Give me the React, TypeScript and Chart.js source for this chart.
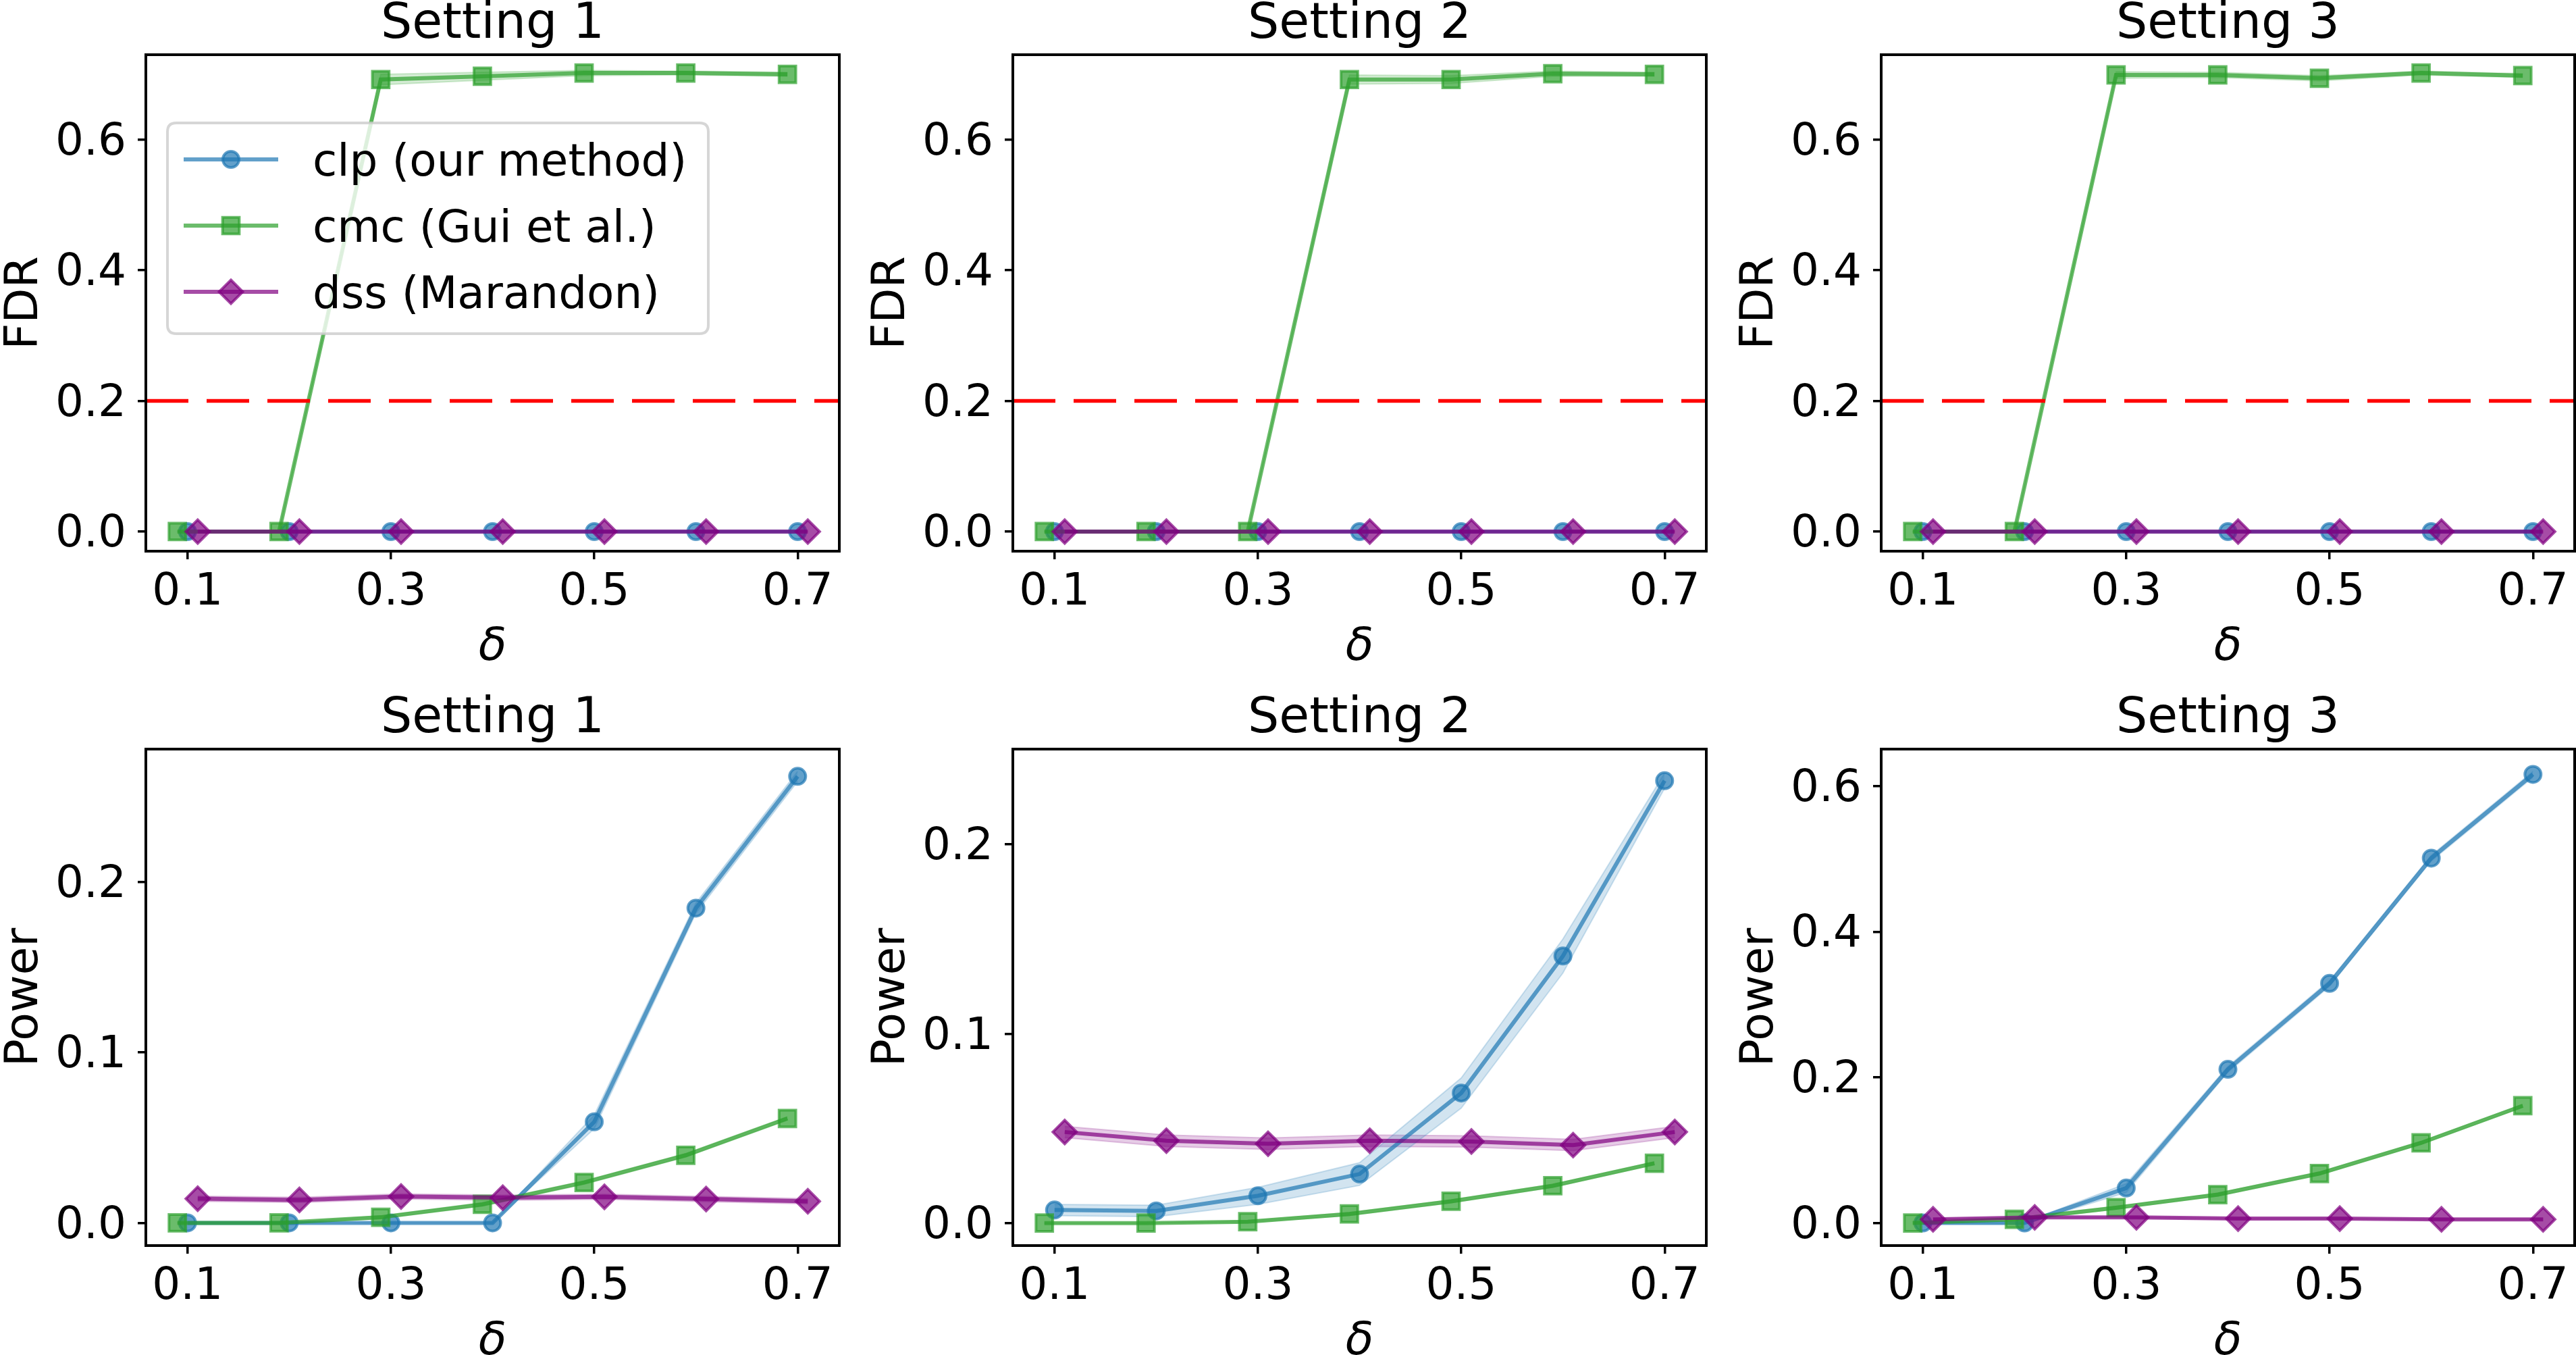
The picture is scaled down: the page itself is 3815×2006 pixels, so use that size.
import React, { useEffect, useRef } from 'react';
import { Chart, registerables } from 'chart.js';

Chart.register(...registerables);

const FONT = '"DejaVu Sans", "Liberation Sans", sans-serif';

// ---- data -------------------------------------------------------------
const DELTA = [0.1, 0.2, 0.3, 0.4, 0.5, 0.6, 0.7];
const X_TICKS = [0.1, 0.3, 0.5, 0.7];
const FDR_TICKS = [0, 0.2, 0.4, 0.6];
const POWER_TICKS_SMALL = [0, 0.1, 0.2];
const POWER_TICKS_LARGE = [0, 0.2, 0.4, 0.6];
const SETTINGS = ['Setting 1', 'Setting 2', 'Setting 3'];
const METHODS = ['clp (our method)', 'cmc (Gui et al.)', 'dss (Marandon)'];
const FDR_LEVEL = 0.2;

// FDR, setting 1
const fdrClp1 = [0, 0, 0, 0, 0, 0, 0];
const fdrCmc1 = [0, 0, 0.692, 0.697, 0.702, 0.702, 0.7];
const fdrDss1 = [0, 0, 0, 0, 0, 0, 0];
const fdrCmcSe1 = [0, 0, 0.008, 0.006, 0.004, 0.003, 0.003];
// FDR, setting 2
const fdrClp2 = [0, 0, 0, 0, 0, 0, 0];
const fdrCmc2 = [0, 0, 0, 0.692, 0.692, 0.701, 0.7];
const fdrDss2 = [0, 0, 0, 0, 0, 0, 0];
const fdrCmcSe2 = [0, 0, 0, 0.007, 0.006, 0.004, 0.003];
// FDR, setting 3
const fdrClp3 = [0, 0, 0, 0, 0, 0, 0];
const fdrCmc3 = [0, 0, 0.699, 0.699, 0.694, 0.702, 0.698];
const fdrDss3 = [0, 0, 0, 0, 0, 0, 0];
const fdrCmcSe3 = [0, 0, 0.005, 0.004, 0.004, 0.003, 0.003];
const ZERO_SE = [0, 0, 0, 0, 0, 0, 0];

// Power, setting 1
const powClp1 = [0, 0, 0, 0, 0.0593, 0.1847, 0.262];
const powCmc1 = [0, 0, 0.0033, 0.0109, 0.0237, 0.0397, 0.0613];
const powDss1 = [0.0142, 0.0135, 0.0155, 0.0148, 0.0153, 0.014, 0.0127];
const powClpSe1 = [0, 0, 0, 0, 0.004, 0.003, 0.003];
const powCmcSe1 = [0, 0, 0.0008, 0.001, 0.001, 0.001, 0.001];
const powDssSe1 = [0.0015, 0.0015, 0.0015, 0.0015, 0.0015, 0.0015, 0.0015];
// Power, setting 2
const powClp2 = [0.0069, 0.0064, 0.0144, 0.0259, 0.0687, 0.1411, 0.2337];
const powCmc2 = [0, 0, 0.0007, 0.0048, 0.0115, 0.0197, 0.0316];
const powDss2 = [0.0481, 0.0435, 0.0419, 0.0435, 0.0431, 0.0412, 0.0481];
const powClpSe2 = [0.003, 0.003, 0.0045, 0.006, 0.008, 0.009, 0.004];
const powCmcSe2 = [0, 0, 0.0005, 0.0008, 0.0008, 0.0008, 0.0008];
const powDssSe2 = [0.003, 0.003, 0.003, 0.003, 0.003, 0.003, 0.003];
// Power, setting 3
const powClp3 = [0, 0, 0.048, 0.211, 0.329, 0.501, 0.616];
const powCmc3 = [0, 0.005, 0.021, 0.039, 0.068, 0.11, 0.161];
const powDss3 = [0.005, 0.0077, 0.0077, 0.006, 0.006, 0.005, 0.005];
const powClpSe3 = [0.001, 0.001, 0.006, 0.004, 0.004, 0.004, 0.004];
const powCmcSe3 = [0.001, 0.002, 0.002, 0.002, 0.002, 0.002, 0.002];
const powDssSe3 = [0.001, 0.001, 0.001, 0.001, 0.001, 0.001, 0.001];

// axis limits
const X_LIMITS = [0.059, 0.741];
const FDR_LIMITS = [-0.03, 0.73];
const POWER_LIMITS_1 = [-0.0133, 0.278];
const POWER_LIMITS_2 = [-0.0119, 0.2504];
const POWER_LIMITS_3 = [-0.031, 0.6507];

// ---- style ------------------------------------------------------------
const COLORS: [number, number, number][] = [
  [31, 119, 180],
  [44, 160, 44],
  [128, 0, 128],
];
const MARKERS = ['circle', 'rect', 'rectRot'];
const MARKER_RADII = [12, 17.5, 17.5];
const X_SHIFT = [0, -0.01, 0.01];

const rgba = (c: [number, number, number], a: number) => `rgba(${c[0]},${c[1]},${c[2]},${a})`;

// layout of one panel canvas
const AXIS_W = 216;
const AXIS_H = 180;
const PAD_TOP = 81;
const PAD_RIGHT = 60;
const BOX_W = 1027;
const BOX_H = 735;
const CANVAS_W = AXIS_W + BOX_W + PAD_RIGHT;
const CANVAS_H = PAD_TOP + BOX_H + AXIS_H;

type Series = { mean: number[]; se: number[] };
type PanelSpec = {
  title: string;
  yLabel: string;
  yLimits: number[];
  yTicks: number[];
  series: Series[];
  level?: number;
  legend?: boolean;
  left: number;
  top: number;
};

const PANELS: PanelSpec[] = [
  {
    title: SETTINGS[0], yLabel: 'FDR', yLimits: FDR_LIMITS, yTicks: FDR_TICKS, level: FDR_LEVEL, legend: true,
    series: [{ mean: fdrClp1, se: ZERO_SE }, { mean: fdrCmc1, se: fdrCmcSe1 }, { mean: fdrDss1, se: ZERO_SE }],
    left: 216, top: 81,
  },
  {
    title: SETTINGS[1], yLabel: 'FDR', yLimits: FDR_LIMITS, yTicks: FDR_TICKS, level: FDR_LEVEL,
    series: [{ mean: fdrClp2, se: ZERO_SE }, { mean: fdrCmc2, se: fdrCmcSe2 }, { mean: fdrDss2, se: ZERO_SE }],
    left: 1500, top: 81,
  },
  {
    title: SETTINGS[2], yLabel: 'FDR', yLimits: FDR_LIMITS, yTicks: FDR_TICKS, level: FDR_LEVEL,
    series: [{ mean: fdrClp3, se: ZERO_SE }, { mean: fdrCmc3, se: fdrCmcSe3 }, { mean: fdrDss3, se: ZERO_SE }],
    left: 2786, top: 81,
  },
  {
    title: SETTINGS[0], yLabel: 'Power', yLimits: POWER_LIMITS_1, yTicks: POWER_TICKS_SMALL,
    series: [{ mean: powClp1, se: powClpSe1 }, { mean: powCmc1, se: powCmcSe1 }, { mean: powDss1, se: powDssSe1 }],
    left: 216, top: 1109,
  },
  {
    title: SETTINGS[1], yLabel: 'Power', yLimits: POWER_LIMITS_2, yTicks: POWER_TICKS_SMALL,
    series: [{ mean: powClp2, se: powClpSe2 }, { mean: powCmc2, se: powCmcSe2 }, { mean: powDss2, se: powDssSe2 }],
    left: 1500, top: 1109,
  },
  {
    title: SETTINGS[2], yLabel: 'Power', yLimits: POWER_LIMITS_3, yTicks: POWER_TICKS_LARGE,
    series: [{ mean: powClp3, se: powClpSe3 }, { mean: powCmc3, se: powCmcSe3 }, { mean: powDss3, se: powDssSe3 }],
    left: 2786, top: 1109,
  },
];

function drawMarker(ctx: CanvasRenderingContext2D, style: string, x: number, y: number, r: number) {
  ctx.beginPath();
  if (style === 'circle') {
    ctx.arc(x, y, r, 0, Math.PI * 2);
  } else if (style === 'rect') {
    const h = r * Math.SQRT1_2;
    ctx.rect(x - h, y - h, 2 * h, 2 * h);
  } else {
    ctx.moveTo(x, y - r);
    ctx.lineTo(x + r, y);
    ctx.lineTo(x, y + r);
    ctx.lineTo(x - r, y);
    ctx.closePath();
  }
  ctx.fill();
  ctx.stroke();
}

function buildConfig(spec: PanelSpec): any {
  const datasets: any[] = [];
  // shaded ±se bands first (drawn underneath)
  spec.series.forEach((s, k) => {
    const c = COLORS[k];
    const xs = DELTA.map((d) => d + X_SHIFT[k]);
    datasets.push({
      data: xs.map((x, i) => ({ x, y: s.mean[i] + s.se[i] })),
      fill: '+1',
      backgroundColor: rgba(c, 0.2),
      borderColor: rgba(c, 0.2),
      borderWidth: 2,
      pointRadius: 0,
      order: 10 + k,
    });
    datasets.push({
      data: xs.map((x, i) => ({ x, y: s.mean[i] - s.se[i] })),
      fill: false,
      backgroundColor: rgba(c, 0.2),
      borderColor: rgba(c, 0.2),
      borderWidth: 2,
      pointRadius: 0,
      order: 10 + k,
    });
  });
  spec.series.forEach((s, k) => {
    const c = COLORS[k];
    const xs = DELTA.map((d) => d + X_SHIFT[k]);
    datasets.push({
      label: METHODS[k],
      data: xs.map((x, i) => ({ x, y: s.mean[i] })),
      fill: false,
      borderColor: rgba(c, 0.7),
      borderWidth: 6,
      pointStyle: MARKERS[k],
      pointRadius: MARKER_RADII[k],
      pointBackgroundColor: rgba(c, 0.7),
      pointBorderColor: rgba(c, 0.7),
      pointBorderWidth: 4,
      order: 3 - k,
    });
  });

  const panelPlugin = {
    id: 'panelDecor',
    afterDatasetsDraw(chart: any) {
      const { ctx, chartArea: a, scales } = chart;
      ctx.save();
      if (spec.level !== undefined) {
        const y = scales.y.getPixelForValue(spec.level);
        ctx.strokeStyle = '#ff0000';
        ctx.lineWidth = 5.5;
        ctx.setLineDash([63, 27]);
        ctx.beginPath();
        ctx.moveTo(a.left, y);
        ctx.lineTo(a.right, y);
        ctx.stroke();
        ctx.setLineDash([]);
      }
      ctx.strokeStyle = '#000';
      ctx.lineWidth = 4;
      ctx.strokeRect(a.left, a.top, a.right - a.left, a.bottom - a.top);
      ctx.restore();
    },
    afterDraw(chart: any) {
      const { ctx, chartArea: a } = chart;
      ctx.save();
      ctx.fillStyle = '#000';
      ctx.font = `73px ${FONT}`;
      ctx.textAlign = 'center';
      ctx.textBaseline = 'alphabetic';
      ctx.fillText(spec.title, (a.left + a.right) / 2, a.top - 25);

      if (spec.legend) {
        const lx = a.left + 32;
        const ly = a.top + 101;
        const lw = 801;
        const lh = 312;
        const rr = 13;
        ctx.beginPath();
        ctx.moveTo(lx + rr, ly);
        ctx.lineTo(lx + lw - rr, ly);
        ctx.quadraticCurveTo(lx + lw, ly, lx + lw, ly + rr);
        ctx.lineTo(lx + lw, ly + lh - rr);
        ctx.quadraticCurveTo(lx + lw, ly + lh, lx + lw - rr, ly + lh);
        ctx.lineTo(lx + rr, ly + lh);
        ctx.quadraticCurveTo(lx, ly + lh, lx, ly + lh - rr);
        ctx.lineTo(lx, ly + rr);
        ctx.quadraticCurveTo(lx, ly, lx + rr, ly);
        ctx.closePath();
        ctx.fillStyle = 'rgba(255,255,255,0.8)';
        ctx.fill();
        ctx.strokeStyle = 'rgba(204,204,204,0.8)';
        ctx.lineWidth = 4;
        ctx.stroke();

        METHODS.forEach((name, k) => {
          const c = COLORS[k];
          const y = ly + 54 + k * 98;
          ctx.strokeStyle = rgba(c, 0.7);
          ctx.lineWidth = 6;
          ctx.beginPath();
          ctx.moveTo(lx + 24, y);
          ctx.lineTo(lx + 164, y);
          ctx.stroke();
          ctx.fillStyle = rgba(c, 0.7);
          ctx.lineWidth = 4;
          drawMarker(ctx, MARKERS[k], lx + 94, y, MARKER_RADII[k]);
          ctx.fillStyle = '#000';
          ctx.font = `66px ${FONT}`;
          ctx.textAlign = 'left';
          ctx.textBaseline = 'alphabetic';
          ctx.fillText(name, lx + 215, y + 24);
        });
      }
      ctx.restore();
    },
  };

  const tickGrid = {
    drawOnChartArea: false,
    drawTicks: true,
    tickLength: 12,
    tickWidth: 3.5,
    tickColor: '#000',
    color: '#000',
    lineWidth: 3.5,
  };

  return {
    type: 'line',
    data: { datasets },
    plugins: [panelPlugin],
    options: {
      animation: false,
      responsive: false,
      devicePixelRatio: 1,
      events: [],
      layout: { padding: { top: PAD_TOP, right: PAD_RIGHT, left: 0, bottom: 0 } },
      elements: { line: { tension: 0 } },
      plugins: {
        legend: { display: false },
        tooltip: { enabled: false },
        title: { display: false },
      },
      scales: {
        x: {
          type: 'linear',
          bounds: 'data',
          min: X_LIMITS[0],
          max: X_LIMITS[1],
          afterFit: (s: any) => {
            s.height = AXIS_H;
          },
          afterBuildTicks: (s: any) => {
            s.ticks = X_TICKS.map((v) => ({ value: v }));
          },
          ticks: {
            autoSkip: false,
            maxRotation: 0,
            color: '#000',
            padding: 17,
            font: { family: FONT, size: 66, lineHeight: 1 },
            callback: (v: number) => Number(v).toFixed(1),
          },
          grid: tickGrid,
          border: { display: false },
          title: {
            display: true,
            text: 'δ',
            color: '#000',
            padding: { top: 0, bottom: 13 },
            font: { family: FONT, size: 68, style: 'italic', lineHeight: 0.7 },
          },
        },
        y: {
          type: 'linear',
          bounds: 'data',
          min: spec.yLimits[0],
          max: spec.yLimits[1],
          afterFit: (s: any) => {
            s.width = AXIS_W;
          },
          afterBuildTicks: (s: any) => {
            s.ticks = spec.yTicks.map((v) => ({ value: v }));
          },
          ticks: {
            autoSkip: false,
            color: '#000',
            padding: 17,
            labelOffset: 5,
            font: { family: FONT, size: 66, lineHeight: 1 },
            callback: (v: number) => Number(v).toFixed(1),
          },
          grid: tickGrid,
          border: { display: false },
          title: {
            display: true,
            text: spec.yLabel,
            color: '#000',
            padding: { top: 14, bottom: 0 },
            font: { family: FONT, size: 68, lineHeight: 0.7 },
          },
        },
      },
    },
  };
}

function Panel({ spec }: { spec: PanelSpec }) {
  const ref = useRef<HTMLCanvasElement>(null);
  useEffect(() => {
    if (!ref.current) return;
    const chart = new Chart(ref.current, buildConfig(spec));
    return () => chart.destroy();
  }, [spec]);
  return (
    <canvas
      ref={ref}
      width={CANVAS_W}
      height={CANVAS_H}
      style={{
        position: 'absolute',
        left: spec.left - AXIS_W,
        top: spec.top - PAD_TOP,
        width: CANVAS_W,
        height: CANVAS_H,
      }}
    />
  );
}

export default function App() {
  return (
    <div
      style={{
        position: 'fixed',
        left: 0,
        top: 0,
        width: 3815,
        height: 2006,
        overflow: 'hidden',
        background: '#ffffff',
      }}
    >
      {PANELS.map((p, i) => (
        <Panel key={i} spec={p} />
      ))}
    </div>
  );
}
